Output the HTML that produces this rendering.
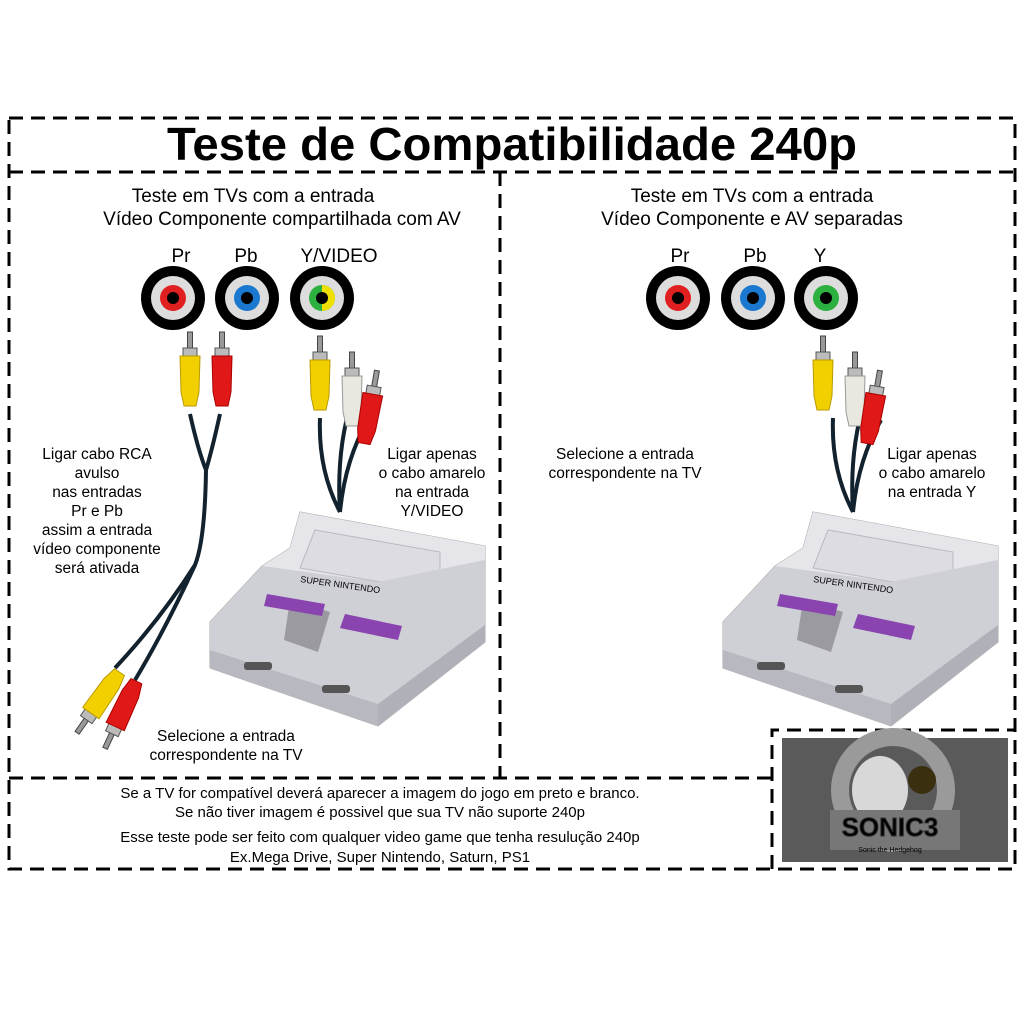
<!DOCTYPE html>
<html><head><meta charset="utf-8"><style>
html,body{margin:0;padding:0;background:#fff;}
svg text{font-family:"Liberation Sans","DejaVu Sans",sans-serif;fill:#000;}
</style></head><body>
<svg width="1024" height="1024" viewBox="0 0 1024 1024" xmlns="http://www.w3.org/2000/svg">
<defs>
<g id="plugY"><rect x="-2.5" y="-40" width="5" height="20" fill="#999" stroke="#444" stroke-width="1"/><rect x="-7" y="-24" width="14" height="10" fill="#bbb" stroke="#555" stroke-width="1"/><path d="M-10,-16 L10,-16 L9,20 L6,34 L-6,34 L-9,20Z" fill="#f2d000" stroke="#b99a00" stroke-width="1"/></g>
<g id="plugR"><rect x="-2.5" y="-40" width="5" height="20" fill="#999" stroke="#444" stroke-width="1"/><rect x="-7" y="-24" width="14" height="10" fill="#bbb" stroke="#555" stroke-width="1"/><path d="M-10,-16 L10,-16 L9,20 L6,34 L-6,34 L-9,20Z" fill="#e01818" stroke="#a00" stroke-width="1"/></g>
<g id="plugW"><rect x="-2.5" y="-40" width="5" height="20" fill="#999" stroke="#444" stroke-width="1"/><rect x="-7" y="-24" width="14" height="10" fill="#bbb" stroke="#555" stroke-width="1"/><path d="M-10,-16 L10,-16 L9,20 L6,34 L-6,34 L-9,20Z" fill="#e8e8e0" stroke="#999" stroke-width="1"/></g>
<g id="snes">
<polygon points="300,512 485,546 485,642 378,726 210,668 210,622 262,566 290,548" fill="#d4d4da" stroke="#aaa" stroke-width="1"/>
<polygon points="300,512 485,546 485,560 378,582 262,566 290,548" fill="#e6e6ea"/>
<polygon points="315,530 440,552 440,575 380,582 300,568" fill="#dcdce2" stroke="#b8b8c0" stroke-width="1"/>
<polygon points="210,622 262,566 378,582 485,560 485,642 378,726 210,668" fill="#cfcfd6"/>
<polygon points="290,600 330,612 318,652 284,640" fill="#9a9aa0"/>
<polygon points="267,594 325,604 322,616 264,606" fill="#8a44b0"/>
<polygon points="345,614 402,626 398,640 340,628" fill="#8a44b0"/>
<polygon points="210,650 378,704 378,726 210,668" fill="#b8b8c0"/>
<rect x="244" y="662" width="28" height="8" rx="3" fill="#555"/>
<rect x="322" y="685" width="28" height="8" rx="3" fill="#555"/>
<polygon points="378,704 485,625 485,642 378,726" fill="#b0b0b8"/>
<text x="300" y="582" font-size="9" fill="#888" transform="rotate(8 300 582)">SUPER NINTENDO</text>
</g>
</defs>
<g fill="none" stroke="#000" stroke-width="3" stroke-dasharray="14,8">
<rect x="9" y="118" width="1006" height="751"/>
<line x1="9" y1="172" x2="1015" y2="172"/>
<line x1="500" y1="172" x2="500" y2="778"/>
<line x1="9" y1="778" x2="772" y2="778"/>
<polyline points="772,869 772,730 1015,730"/>
</g>
<text x="512" y="160" font-size="46" font-weight="bold" text-anchor="middle" textLength="690" lengthAdjust="spacingAndGlyphs">Teste de Compatibilidade 240p</text>
<g font-size="19" text-anchor="middle">
<text x="253" y="202">Teste em TVs com a entrada</text>
<text x="282" y="225">Vídeo Componente compartilhada com AV</text>
<text x="752" y="202">Teste em TVs com a entrada</text>
<text x="752" y="225">Vídeo Componente e AV separadas</text>
<text x="181" y="262">Pr</text><text x="246" y="262">Pb</text><text x="339" y="262">Y/VIDEO</text>
<text x="680" y="262">Pr</text><text x="755" y="262">Pb</text><text x="820" y="262">Y</text>
</g>
<g id="jacks">
<circle cx="173" cy="298" r="32" fill="#000"/><circle cx="173" cy="298" r="22" fill="#ddd"/><circle cx="173" cy="298" r="13" fill="#e02020"/><circle cx="173" cy="298" r="6" fill="#000"/>
<circle cx="247" cy="298" r="32" fill="#000"/><circle cx="247" cy="298" r="22" fill="#ddd"/><circle cx="247" cy="298" r="13" fill="#1a78d0"/><circle cx="247" cy="298" r="6" fill="#000"/>
<circle cx="322" cy="298" r="32" fill="#000"/><circle cx="322" cy="298" r="22" fill="#ddd"/><circle cx="322" cy="298" r="13" fill="#2cb040"/><path d="M322,285 A13,13 0 0 1 322,311Z" fill="#f0e000"/><circle cx="322" cy="298" r="6" fill="#000"/>
</g>
<circle cx="678" cy="298" r="32" fill="#000"/><circle cx="678" cy="298" r="22" fill="#ddd"/><circle cx="678" cy="298" r="13" fill="#e02020"/><circle cx="678" cy="298" r="6" fill="#000"/>
<circle cx="753" cy="298" r="32" fill="#000"/><circle cx="753" cy="298" r="22" fill="#ddd"/><circle cx="753" cy="298" r="13" fill="#1a78d0"/><circle cx="753" cy="298" r="6" fill="#000"/>
<circle cx="826" cy="298" r="32" fill="#000"/><circle cx="826" cy="298" r="22" fill="#ddd"/><circle cx="826" cy="298" r="13" fill="#2cb040"/><circle cx="826" cy="298" r="6" fill="#000"/>
<!-- left cables -->
<g fill="none" stroke="#12222e" stroke-width="4">
<path d="M190,414 Q198,450 206,470 Q205,540 195,565 Q160,620 115,668"/>
<path d="M220,414 Q212,450 206,470"/>
<path d="M195,565 Q165,630 135,680"/>
<path d="M320,418 Q318,470 340,512"/>
<path d="M352,400 Q336,450 340,512"/>
<path d="M368,420 Q345,460 340,512"/>
<path d="M833,418 Q831,470 853,512"/>
<path d="M865,400 Q849,450 853,512"/>
<path d="M881,420 Q858,460 853,512"/>
</g>
<use href="#plugY" transform="translate(190,372)"/>
<use href="#plugR" transform="translate(222,372)"/>
<use href="#plugY" transform="translate(100,700) rotate(-145)"/>
<use href="#plugR" transform="translate(122,712) rotate(-155)"/>
<use href="#plugY" transform="translate(320,376)"/>
<use href="#plugW" transform="translate(352,392)"/>
<use href="#plugR" transform="translate(370,410) rotate(10)"/>
<use href="#plugY" transform="translate(823,376)"/>
<use href="#plugW" transform="translate(855,392)"/>
<use href="#plugR" transform="translate(873,410) rotate(10)"/>
<use href="#snes"/>
<use href="#snes" transform="translate(513,0)"/>
<g font-size="15.5" text-anchor="middle">
<text x="97" y="459">Ligar cabo RCA</text><text x="97" y="478">avulso</text><text x="97" y="497">nas entradas</text><text x="97" y="516">Pr e Pb</text><text x="97" y="535">assim a entrada</text><text x="97" y="554">vídeo componente</text><text x="97" y="573">será ativada</text>
<text x="432" y="459">Ligar apenas</text><text x="432" y="478">o cabo amarelo</text><text x="432" y="497">na entrada</text><text x="432" y="516">Y/VIDEO</text>
<text x="226" y="741">Selecione a entrada</text><text x="226" y="760">correspondente na TV</text>
<text x="625" y="459">Selecione a entrada</text><text x="625" y="478">correspondente na TV</text>
<text x="932" y="459">Ligar apenas</text><text x="932" y="478">o cabo amarelo</text><text x="932" y="497">na entrada Y</text>
</g>
<g font-size="15" text-anchor="middle">
<text x="380" y="798">Se a TV for compatível deverá aparecer a imagem do jogo em preto e branco.</text>
<text x="380" y="817">Se não tiver imagem é possivel que sua TV não suporte 240p</text>
<text x="380" y="842">Esse teste pode ser feito com qualquer video game que tenha resulução 240p</text>
<text x="380" y="862">Ex.Mega Drive, Super Nintendo, Saturn, PS1</text>
</g>
<!-- sonic screen -->
<rect x="782" y="738" width="226" height="124" fill="#5a5a5a"/>
<circle cx="893" cy="790" r="62" fill="#9a9a9a"/>
<circle cx="893" cy="790" r="44" fill="#5a5a5a"/>
<ellipse cx="880" cy="790" rx="28" ry="34" fill="#d8d8d8"/>
<circle cx="922" cy="780" r="14" fill="#3a3010"/>
<rect x="830" y="810" width="130" height="40" fill="#777"/>
<text x="890" y="836" font-size="26" font-weight="bold" text-anchor="middle" fill="#e8e8e8" stroke="#333" stroke-width="1">SONIC3</text>
<text x="890" y="852" font-size="7" text-anchor="middle" fill="#ddd">Sonic the Hedgehog</text>
</svg>
</body></html>
